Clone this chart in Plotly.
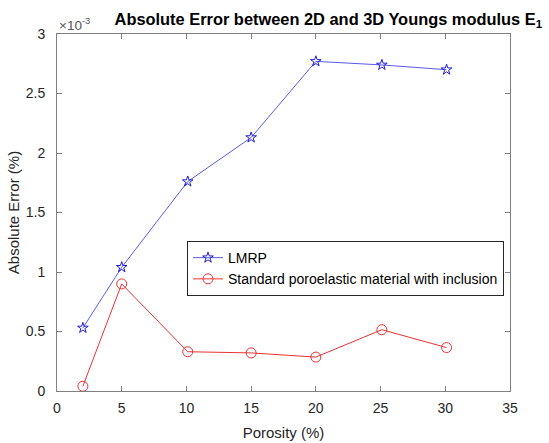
import plotly.graph_objects as go

# Porosity (%) and absolute error values
porosity_lmrp = [2, 5, 10.1, 15, 20, 25.1, 30.1]
err_lmrp = [0.53e-3, 1.04e-3, 1.76e-3, 2.13e-3, 2.77e-3, 2.74e-3, 2.70e-3]

porosity_std = [2, 5, 10.1, 15, 20, 25.1, 30.1]
err_std = [0.04e-3, 0.90e-3, 0.33e-3, 0.32e-3, 0.285e-3, 0.515e-3, 0.365e-3]

x_ticks = [0, 5, 10, 15, 20, 25, 30, 35]
y_ticks = [0, 0.5e-3, 1e-3, 1.5e-3, 2e-3, 2.5e-3, 3e-3]
y_ticktext = ["0", "0.5", "1", "1.5", "2", "2.5", "3"]

FONT = "Liberation Sans, Arial, sans-serif"
AXIS_COLOR = "#262626"

fig = go.Figure()
fig.add_trace(go.Scatter(
    x=porosity_lmrp, y=err_lmrp, mode="lines+markers", name="LMRP",
    line=dict(color="rgb(90,90,235)", width=1),
    marker=dict(symbol="star-open", size=8, color="rgb(30,30,220)", line=dict(width=1)),
))
fig.add_trace(go.Scatter(
    x=porosity_std, y=err_std, mode="lines+markers",
    name="Standard poroelastic material with inclusion",
    line=dict(color="rgb(235,50,50)", width=1),
    marker=dict(symbol="circle-open", size=10, color="rgb(235,50,50)", line=dict(width=1)),
))

axis_common = dict(
    showgrid=False, zeroline=False, showline=True, linecolor="#808080", linewidth=1,
    mirror="ticks", ticks="inside", ticklen=5, tickcolor="#808080", automargin=False,
    tickfont=dict(family=FONT, size=14, color=AXIS_COLOR),
)

fig.update_layout(
    width=549, height=443,
    margin=dict(l=57, r=39, t=34, b=52),
    paper_bgcolor="white", plot_bgcolor="white",
    font=dict(family=FONT, color=AXIS_COLOR),
    title=dict(
        text="<b>Absolute Error between 2D and 3D Youngs modulus E<sub>1</sub></b>",
        x=0.598, xanchor="center", y=0.957, yanchor="middle",
        font=dict(family=FONT, size=16.4, color="black"),
    ),
    xaxis=dict(
        range=[0, 35], tickvals=x_ticks, ticklabelstandoff=4,
        title=dict(text="Porosity (%)", font=dict(family=FONT, size=15), standoff=12),
        **axis_common,
    ),
    yaxis=dict(
        range=[0, 3e-3], tickvals=y_ticks, ticktext=y_ticktext, ticklabelstandoff=8,
        title=dict(text="Absolute Error (%)", font=dict(family=FONT, size=15), standoff=2),
        **axis_common,
    ),
    legend=dict(
        x=0.287, y=0.42, xanchor="left", yanchor="top",
        bgcolor="white", bordercolor=AXIS_COLOR, borderwidth=1,
        font=dict(family=FONT, size=14, color="black"),
        itemwidth=30, tracegroupgap=0,
    ),
    showlegend=True,
)

fig.add_annotation(
    text="×10<sup>-3</sup>", xref="paper", yref="paper", x=0.0, y=1.0,
    xanchor="left", yanchor="bottom", showarrow=False, yshift=-1,
    font=dict(family=FONT, size=13.5, color="#555555"),
)

fig.write_html("out.html")
